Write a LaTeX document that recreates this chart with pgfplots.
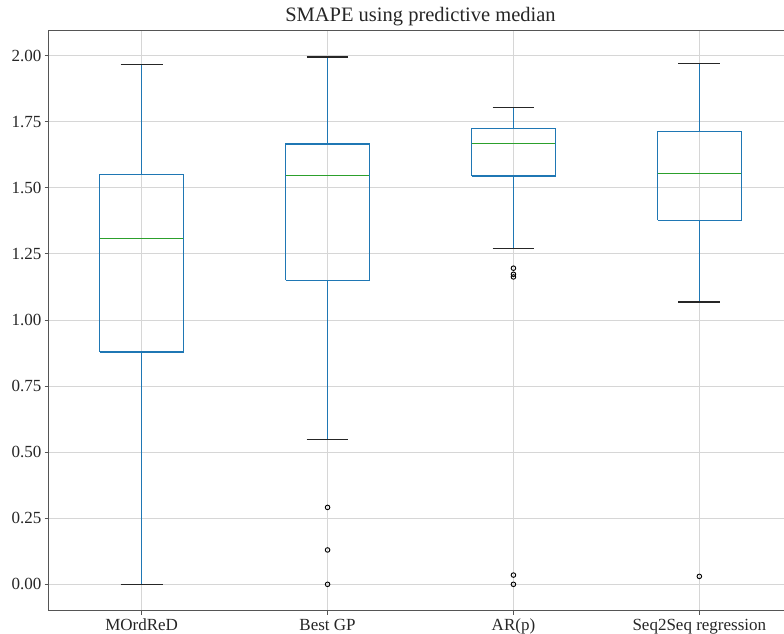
\documentclass[border=0pt]{standalone}
\usepackage{fontspec}
\setmainfont{Liberation Serif}
\usepackage{pgfplots}
\pgfplotsset{compat=1.18}
\definecolor{mplblue}{HTML}{1F77B4}
\definecolor{mplgreen}{HTML}{2CA02C}
\definecolor{spine}{HTML}{555555}
\definecolor{gridc}{HTML}{D6D6D6}
\begin{document}
\begin{tikzpicture}
\begin{axis}[
  scale only axis,
  width=743.6pt, height=580pt,
  xmin=0.5, xmax=4.5,
  ymin=-0.0998, ymax=2.0946,
  xtick={1,2,3,4},
  xticklabels={MOrdReD, Best GP, AR(p), Seq2Seq regression},
  ytick={0,0.25,0.5,0.75,1,1.25,1.5,1.75,2},
  /pgf/number format/assume math mode=true,
  yticklabel style={/pgf/number format/fixed, /pgf/number format/fixed zerofill, /pgf/number format/precision=2},
  tick label style={font=\fontsize{17}{20}\selectfont, color=black!85},
  xticklabel style={inner sep=0pt, anchor=north, yshift=-4pt},
  yticklabel style={inner sep=0pt, anchor=east, xshift=-3pt},
  xtick pos=bottom, ytick pos=left,
  tick align=outside,
  major tick length=4pt,
  every tick/.style={spine, line width=0.9pt},
  axis line style={spine, line width=1.1pt},
  grid=major,
  major grid style={gridc, line width=0.9pt},
  title={SMAPE using predictive median},
  title style={font=\fontsize{20.5}{24}\selectfont, color=black!85, anchor=base, inner sep=0pt, yshift=3.5pt},
  boxst/.style={draw=mplblue, line width=1.1pt, no marks, forget plot},
  medst/.style={draw=mplgreen, line width=1.1pt, no marks, forget plot},
  whisk/.style={draw=mplblue, line width=1.2pt, no marks, forget plot},
  cap/.style={draw=black!85, line width=1.1pt, no marks, forget plot},
]
\coordinate (ll) at (rel axis cs:0,0);
\coordinate (ur) at (rel axis cs:1,1);
% whiskers (blue): quartile to whisker end
\addplot[whisk] coordinates {(1,0.0) (1,0.879)};
\addplot[whisk] coordinates {(1,1.552) (1,1.966)};
\addplot[whisk] coordinates {(2,0.547) (2,1.151)};
\addplot[whisk] coordinates {(2,1.666) (2,1.995)};
\addplot[whisk] coordinates {(3,1.272) (3,1.545)};
\addplot[whisk] coordinates {(3,1.725) (3,1.803)};
\addplot[whisk] coordinates {(4,1.068) (4,1.377)};
\addplot[whisk] coordinates {(4,1.712) (4,1.972)};
% boxes: lower quartile to upper quartile
\addplot[boxst] coordinates {(0.775,0.879) (1.225,0.879) (1.225,1.552) (0.775,1.552) (0.775,0.879)};
\addplot[boxst] coordinates {(1.775,1.151) (2.225,1.151) (2.225,1.666) (1.775,1.666) (1.775,1.151)};
\addplot[boxst] coordinates {(2.775,1.545) (3.225,1.545) (3.225,1.725) (2.775,1.725) (2.775,1.545)};
\addplot[boxst] coordinates {(3.775,1.377) (4.225,1.377) (4.225,1.712) (3.775,1.712) (3.775,1.377)};
% medians
\addplot[medst] coordinates {(0.775,1.310) (1.225,1.310)};
\addplot[medst] coordinates {(1.775,1.546) (2.225,1.546)};
\addplot[medst] coordinates {(2.775,1.669) (3.225,1.669)};
\addplot[medst] coordinates {(3.775,1.555) (4.225,1.555)};
% whisker caps (black)
\addplot[cap] coordinates {(0.8875,0.0) (1.1125,0.0)};
\addplot[cap] coordinates {(0.8875,1.966) (1.1125,1.966)};
\addplot[cap] coordinates {(1.8875,0.547) (2.1125,0.547)};
\addplot[cap] coordinates {(1.8875,1.995) (2.1125,1.995)};
\addplot[cap] coordinates {(2.8875,1.272) (3.1125,1.272)};
\addplot[cap] coordinates {(2.8875,1.803) (3.1125,1.803)};
\addplot[cap] coordinates {(3.8875,1.068) (4.1125,1.068)};
\addplot[cap] coordinates {(3.8875,1.972) (4.1125,1.972)};
% outliers
\addplot[only marks, mark=o, mark size=2.3pt, mark options={draw=black, line width=0.9pt}] coordinates {
  (2,0.291) (2,0.130) (2,0.0)
  (3,1.196) (3,1.173) (3,1.163) (3,0.035) (3,0.0)
  (4,0.030)
};
\end{axis}
\pgfresetboundingbox
\path ([shift={(-48.7pt,-23.3pt)}]ll) rectangle ([shift={(-8.3pt,30.7pt)}]ur);
\end{tikzpicture}
\end{document}
